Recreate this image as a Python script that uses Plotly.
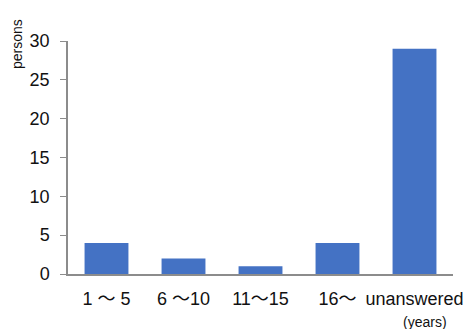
import plotly.graph_objects as go

# Years of experience vs. number of respondents
categories = ["1 ～ 5", "6 ～10", "11～15", "16～", "unanswered"]
counts = [4, 2, 1, 4, 29]
y_ticks = [0, 5, 10, 15, 20, 25, 30]

W, H = 471, 329
L, R, T, B = 68, 18, 41, 55

fig = go.Figure(
    go.Bar(
        x=categories,
        y=counts,
        marker=dict(color="#4472C4", line=dict(width=0)),
        width=0.57,
    )
)

font_fam = "Liberation Sans, Arial, Noto Sans CJK JP, sans-serif"

fig.update_layout(
    width=W,
    height=H,
    margin=dict(l=L, r=R, t=T, b=B),
    paper_bgcolor="white",
    plot_bgcolor="white",
    showlegend=False,
    font=dict(family=font_fam, color="#111111"),
    xaxis=dict(
        range=[-0.5, 4.5],
        automargin=False,
        showline=True,
        linecolor="#8c8c8c",
        linewidth=1.5,
        ticks="",
        showgrid=False,
        tickfont=dict(size=18, family=font_fam),
        ticklabelstandoff=8,
    ),
    yaxis=dict(
        range=[0, 30],
        automargin=False,
        tickvals=y_ticks,
        showline=True,
        linecolor="#8c8c8c",
        linewidth=1.5,
        ticks="outside",
        ticklen=6,
        tickcolor="#8c8c8c",
        showgrid=False,
        zeroline=False,
        tickfont=dict(size=18, family=font_fam),
        ticklabelstandoff=7,
    ),
    annotations=[
        dict(
            text="persons",
            xref="paper", yref="paper",
            x=-(L - 17) / (W - L - R), y=1 - 3 / (H - T - B),
            xanchor="center", yanchor="middle",
            textangle=-90, showarrow=False,
            font=dict(size=14, family=font_fam),
        ),
        dict(
            text="(years)",
            xref="paper", yref="paper",
            x=(425 - L) / (W - L - R), y=-(322 - (H - B)) / (H - T - B),
            xanchor="center", yanchor="middle",
            showarrow=False,
            font=dict(size=14, family=font_fam),
        ),
    ],
)

fig.write_html("out.html")
